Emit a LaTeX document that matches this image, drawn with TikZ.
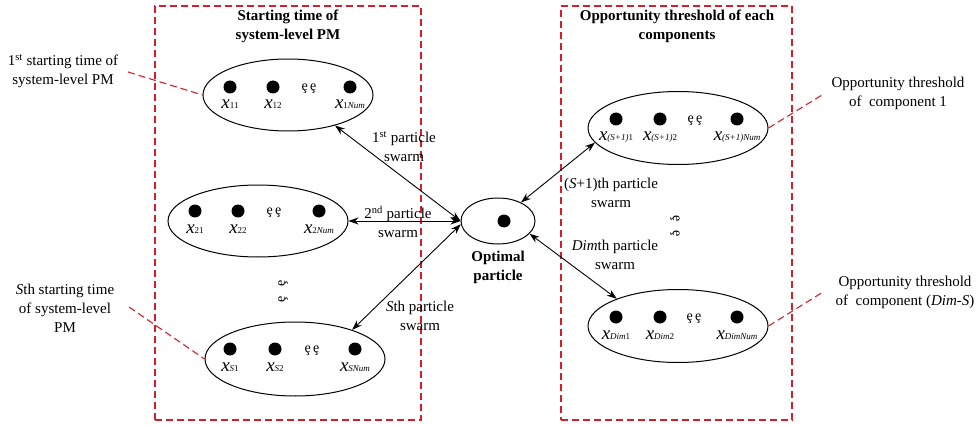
\documentclass[tikz,border=0pt]{standalone}
\usepackage{fontspec}
\setmainfont{Liberation Serif}
\usetikzlibrary{shapes.geometric,arrows.meta}
\definecolor{boxred}{RGB}{215,30,40}
\newcommand{\xl}[1]{{\fontsize{19}{19}\selectfont\itshape x}{\fontsize{9}{9}\selectfont #1}}
\tikzset{
 x=1pt,y=-1pt,
 ell/.style={draw,ellipse,line width=1pt,inner sep=0pt},
 dot/.style={circle,fill=black,inner sep=0pt,minimum size=13pt},
 txt/.style={font=\fontsize{15}{19}\selectfont,align=center,inner sep=0pt},
 ttl/.style={font=\bfseries\fontsize{15}{19}\selectfont,align=center,inner sep=0pt},
 lab/.style={inner sep=0pt},
 edots/.style={font=\fontsize{14}{14}\selectfont,inner sep=0pt},
 region/.style={draw=boxred,dash pattern=on 7pt off 4pt,line width=1.2pt,inner sep=0pt},
 lead/.style={draw=boxred,dash pattern=on 7pt off 4pt,line width=1.1pt},
 dbl/.style={{Stealth[length=10pt,width=7pt]}-{Stealth[length=10pt,width=7pt]},line width=0.9pt},
}
\begin{document}
\begin{tikzpicture}
\useasboundingbox (0,0) rectangle (980,425);
% region boxes
\node[region,minimum width=266pt,minimum height=414pt] (lbox) at (288,213) {};
\node[region,minimum width=231pt,minimum height=414pt] (rbox) at (676.5,213) {};
\node[ttl] (lt) at (288,26) {Starting time of\\system-level PM};
\node[ttl] (rt) at (677,26) {Opportunity threshold of each\\components};

% ellipses
\node[ell,minimum width=170pt,minimum height=72pt] (e1) at (288,95) {};
\node[ell,minimum width=180pt,minimum height=72pt] (e2) at (258,221) {};
\node[ell,minimum width=180pt,minimum height=74pt] (e3) at (295,359) {};
\node[ell,minimum width=74pt,minimum height=46pt] (opt) at (498,221) {};
\node[ell,minimum width=180pt,minimum height=73pt] (r1) at (678,128) {};
\node[ell,minimum width=180pt,minimum height=73pt] (r2) at (678,326) {};

% e1 contents
\node[dot] (d11) at (230,87) {};
\node[dot] (d12) at (273,87) {};
\node[dot] (d1n) at (350,87) {};
\node[edots] (el1) at (309,89) {ȩ\,ȩ};
\node[lab] (l11) at (230,104) {\xl{11}};
\node[lab] (l12) at (273,104) {\xl{12}};
\node[lab] (l1n) at (350,104) {\xl{1\textit{Num}}};
% e2 contents
\node[dot] (d21) at (195,211) {};
\node[dot] (d22) at (238,211) {};
\node[dot] (d2n) at (319,211) {};
\node[edots] (el2) at (274,213) {ȩ\,ȩ};
\node[lab] (l21) at (195,229) {\xl{21}};
\node[lab] (l22) at (238,229) {\xl{22}};
\node[lab] (l2n) at (319,229) {\xl{2\textit{Num}}};
% e3 contents
\node[dot] (d31) at (230,349) {};
\node[dot] (d32) at (275,349) {};
\node[dot] (d3n) at (355,349) {};
\node[edots] (el3) at (312,351) {ȩ\,ȩ};
\node[lab] (l31) at (230,367) {\xl{\textit{S}1}};
\node[lab] (l32) at (275,367) {\xl{\textit{S}2}};
\node[lab] (l3n) at (355,367) {\xl{\textit{SNum}}};
% optimal
\node[dot] (dopt) at (504,221) {};
\node[ttl] (optl) at (498,267) {Optimal\\particle};
% r1 contents
\node[dot] (dr11) at (616,119) {};
\node[dot] (dr12) at (660,119) {};
\node[dot] (dr1n) at (737,119) {};
\node[edots] (elr1) at (695,121) {ȩ\,ȩ};
\node[lab] (lr11) at (616,137) {\xl{\textit{(S+1)}1}};
\node[lab] (lr12) at (660,137) {\xl{\textit{(S+1)}2}};
\node[lab] (lr1n) at (737,137) {\xl{\textit{(S+1)Num}}};
% r2 contents
\node[dot] (dr21) at (616,317) {};
\node[dot] (dr22) at (660,317) {};
\node[dot] (dr2n) at (737,317) {};
\node[edots] (elr2) at (694,319) {ȩ\,ȩ};
\node[lab] (lr21) at (616,335) {\xl{\textit{Dim}1}};
\node[lab] (lr22) at (660,335) {\xl{\textit{Dim}2}};
\node[lab] (lr2n) at (737,335) {\xl{\textit{DimNum}}};

% vertical ellipses
\node[edots,rotate=90] (vl1) at (283,283) {ȩ};
\node[edots,rotate=90] (vl2) at (283,299) {ȩ};
\node[edots,rotate=-90] (vr1) at (675,219) {ȩ};
\node[edots,rotate=-90] (vr2) at (675,234) {ȩ};

% arrows
\draw[dbl] (e1.-33) -- (opt.west);
\draw[dbl] (e2.east) -- (opt.west);
\draw[dbl] (opt.185) -- (e3.27);
\draw[dbl] (opt.39) -- (r1.190);
\draw[dbl] (opt.-22) -- (r2.156);

% arrow labels
\node[txt] (a1) at (404,147) {1\textsuperscript{st} particle\\swarm};
\node[txt] (a2) at (398,222) {2\textsuperscript{nd} particle\\swarm};
\node[txt] (a3) at (420,316) {\textit{S}th particle\\swarm};
\node[txt] (a4) at (611,193) {(\textit{S}+1)th particle\\swarm};
\node[txt] (a5) at (615,255) {\textit{Dim}th particle\\swarm};

% side labels
\node[txt] (s1) at (63,71) {1\textsuperscript{st} starting time of\\system-level PM};
\node[txt] (s2) at (65,308) {\textit{S}th starting time\\of system-level\\PM};
\node[txt] (s3) at (898,93) {Opportunity threshold\\of\ \ component 1};
\node[txt] (s4) at (905,292) {Opportunity threshold\\of\ \ component (\textit{Dim}-\textit{S})};
\coordinate (c1) at (128,72);
\coordinate (c2) at (129,307);
\coordinate (c3) at (822,95);
\coordinate (c4) at (823,292);
\draw[lead] (c1) -- (e1.west);
\draw[lead] (c2) -- (e3.west);
\draw[lead] (r1.east) -- (c3);
\draw[lead] (r2.east) -- (c4);
\end{tikzpicture}
\end{document}
